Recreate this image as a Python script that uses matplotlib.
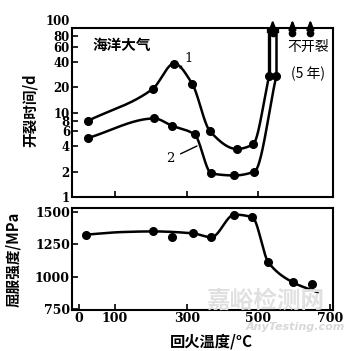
import numpy as np
import matplotlib
matplotlib.use("Agg")
import matplotlib.pyplot as plt

plt.rcParams['font.family'] = ['DejaVu Serif', 'Noto Sans CJK SC']

# Tempering temperature (°C) vs. time to cracking (days), marine atmosphere
temp_1 = [25, 205, 265, 315, 365, 440, 485, 530]
life_1 = [8, 19, 38, 22, 6, 3.7, 4.2, 27]
temp_2 = [25, 210, 258, 322, 369, 433, 489, 550]
life_2 = [5, 8.5, 7, 5.5, 1.9, 1.8, 2.0, 27]
no_crack_temps = [540, 595, 645]
no_crack_life = [87, 87, 87]

# Tempering temperature vs. yield strength
temp_ys = [20, 205, 258, 317, 369, 433, 483, 528, 597, 650]
yield_ys = [1325, 1350, 1305, 1335, 1305, 1480, 1460, 1110, 955, 945]
trend_t = [20, 120, 205, 317, 369, 433, 483, 528, 597, 665]
trend_v = [1325, 1345, 1350, 1335, 1305, 1480, 1460, 1110, 955, 880]

x_ticks = [0, 100, 300, 500, 700]
life_ticks = [1, 2, 4, 6, 8, 10, 20, 40, 60, 80, 100]
ys_ticks = [750, 1000, 1250, 1500]

CJK = ['Noto Sans CJK SC', 'DejaVu Sans']


def smooth(x, y, n=40):
    """Monotone (Fritsch-Carlson) cubic curve through the given points."""
    x = np.asarray(x, float)
    y = np.asarray(y, float)
    h = np.diff(x)
    d = np.diff(y) / h
    m = np.zeros_like(y)
    m[0], m[-1] = d[0], d[-1]
    for i in range(1, len(y) - 1):
        if d[i - 1] * d[i] > 0:
            w1 = 2 * h[i] + h[i - 1]
            w2 = h[i] + 2 * h[i - 1]
            m[i] = (w1 + w2) / (w1 / d[i - 1] + w2 / d[i])
    xs, ys = [], []
    t = np.linspace(0, 1, n, endpoint=False)
    for i in range(len(x) - 1):
        h00 = 2 * t ** 3 - 3 * t ** 2 + 1
        h10 = t ** 3 - 2 * t ** 2 + t
        h01 = -2 * t ** 3 + 3 * t ** 2
        h11 = t ** 3 - t ** 2
        xs.extend(x[i] + t * h[i])
        ys.extend(h00 * y[i] + h10 * h[i] * m[i] + h01 * y[i + 1] + h11 * h[i] * m[i + 1])
    xs.append(x[-1])
    ys.append(y[-1])
    return np.array(xs), np.array(ys)


fig = plt.figure(figsize=(3.47, 3.51), dpi=100)
ax1 = fig.add_axes([0.2075, 0.4387, 0.752, 0.4815])
ax2 = fig.add_axes([0.2075, 0.1168, 0.752, 0.2906])

lw = 1.8
ms = 5.5

# --- upper panel: time to cracking ---
for tx, ly in ((temp_1, life_1), (temp_2, life_2)):
    sx, sy = smooth(tx, np.log10(ly))
    ax1.plot(sx, 10 ** sy, color='black', lw=lw, solid_capstyle='round')
    ax1.plot(tx, ly, 'o', color='black', ms=ms)

# box of uncracked specimens between the two curves
ax1.plot([temp_1[-1], temp_1[-1]], [life_1[-1], 100], color='black', lw=lw + 0.6)
ax1.plot([temp_2[-1], temp_2[-1]], [life_2[-1], 100], color='black', lw=lw)
ax1.plot([temp_1[-1], temp_2[-1]], [life_1[-1], life_2[-1]], color='black', lw=lw + 1.5)
ax1.plot([temp_1[-1], temp_2[-1]], [95, 95], color='black', lw=lw + 2, clip_on=False)

for t, v in zip(no_crack_temps, no_crack_life):
    ax1.plot([t], [v], 'o', color='black', ms=4.5, clip_on=False)
    ax1.annotate('', xy=(t, 135), xytext=(t, v), annotation_clip=False,
                 arrowprops=dict(arrowstyle='-|>,head_width=0.22,head_length=0.55',
                                 color='black', lw=1.5))

ax1.set_yscale('log')
ax1.set_xlim(-20, 708)
ax1.set_ylim(1, 100)
ax1.set_yticks(life_ticks)
ax1.set_yticklabels([str(v) for v in life_ticks])
ax1.yaxis.set_minor_locator(matplotlib.ticker.NullLocator())
ax1.set_xticks([100, 300, 500])
ax1.set_xticklabels([])
ax1.set_ylabel('开裂时间/d', family=CJK, fontsize=10.5, fontweight='bold')
ax1.yaxis.set_label_coords(-0.13, 0.515)

ax1.text(0.08, 0.90, '海洋大气', transform=ax1.transAxes, family=CJK,
         fontsize=10.5, fontweight='bold', va='center', ha='left')
ax1.text(0.905, 0.885, '不开裂', transform=ax1.transAxes, family=CJK,
         fontsize=10, va='center', ha='center')
ax1.text(0.905, 0.73, '(5 年)', transform=ax1.transAxes, family=CJK,
         fontsize=10, va='center', ha='center')
ax1.annotate('1', xy=(0.414, 0.763), xytext=(0.447, 0.82), textcoords='axes fraction',
             xycoords='axes fraction', fontsize=9.5, ha='center', va='center',
             arrowprops=dict(arrowstyle='-', color='black', lw=1, shrinkA=3, shrinkB=0))
ax1.annotate('2', xy=(0.479, 0.302), xytext=(0.375, 0.225), textcoords='axes fraction',
             xycoords='axes fraction', fontsize=9.5, ha='center', va='center',
             arrowprops=dict(arrowstyle='-', color='black', lw=1, shrinkA=3, shrinkB=0))

# --- lower panel: yield strength ---
sx, sy = smooth(trend_t, trend_v)
ax2.plot(sx, sy, color='black', lw=lw)
ax2.plot(temp_ys, yield_ys, 'o', color='black', ms=ms)
ax2.set_xlim(-20, 708)
ax2.set_ylim(742, 1531)
ax2.set_yticks(ys_ticks)
ax2.set_xticks(x_ticks)
ax2.set_ylabel('屈服强度/MPa', family=CJK, fontsize=10.5, fontweight='bold')
ax2.yaxis.set_label_coords(-0.195, 0.50)
ax2.set_xlabel('回火温度/°C', family=CJK, fontsize=11, fontweight='bold')
ax2.xaxis.set_label_coords(0.536, -0.235)

for ax, size in ((ax1, 8.5), (ax2, 9)):
    for s in ax.spines.values():
        s.set_linewidth(1.5)
    ax.tick_params(direction='in', length=4, width=1.2, labelsize=size, pad=1.5)
    for lab in ax.get_xticklabels() + ax.get_yticklabels():
        lab.set_fontweight('bold')

# the top label sits above the frame corner
ax1.get_yticklabels()[-1].set_verticalalignment('bottom')

# site watermark
fig.text(0.765, 0.142, '嘉峪检测网', family=CJK, fontsize=17, fontweight='bold',
         color='#e0e0e0', ha='center', va='center')
fig.text(0.85, 0.068, 'AnyTesting.com', family='DejaVu Sans', fontsize=8,
         style='italic', fontweight='bold', color='#d8d8d8', ha='center', va='center')

fig.savefig('out.png', dpi=100)
